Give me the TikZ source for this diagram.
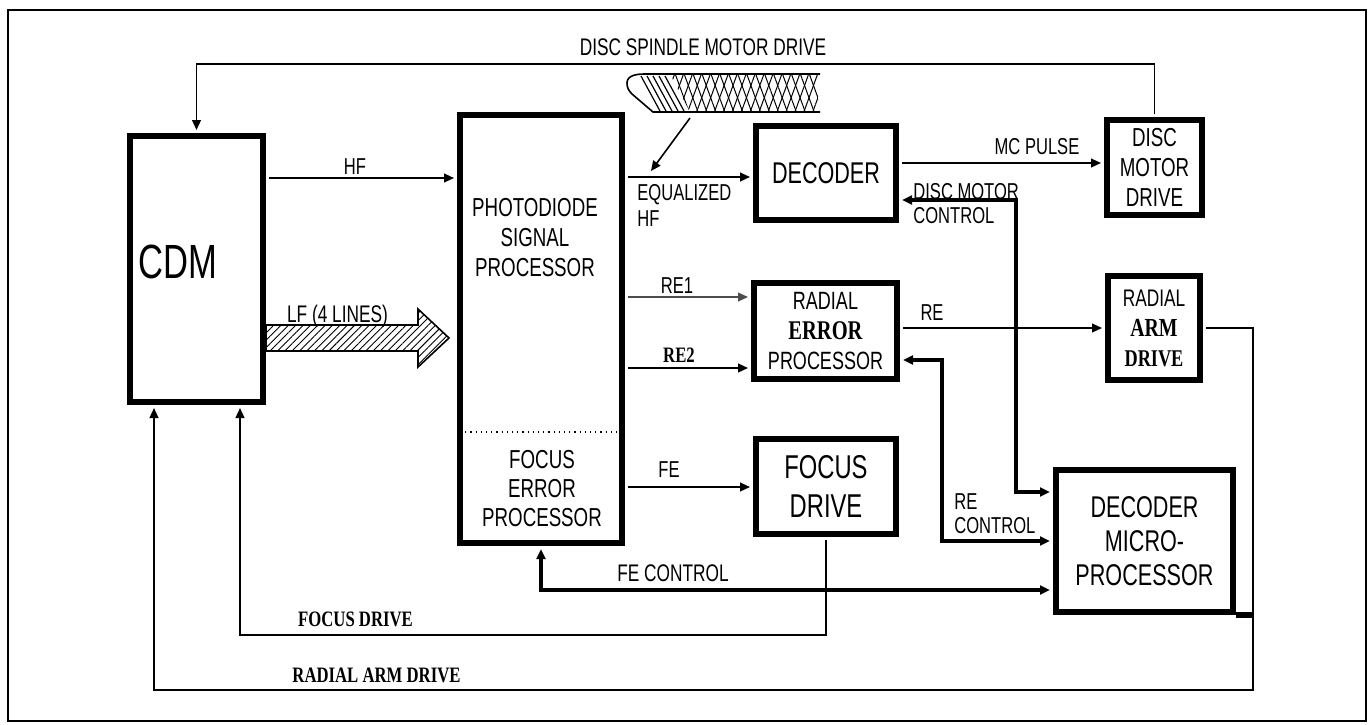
\documentclass[tikz,border=0pt]{standalone}
\usepackage{fontspec}
\setmainfont{Liberation Sans}
\newfontfamily\narrowsf[FakeStretch=0.72]{Liberation Sans}
\newfontfamily\narrowrm[FakeStretch=0.76]{Liberation Serif}
\usetikzlibrary{arrows.meta, positioning, patterns.meta}

\begin{document}
\begin{tikzpicture}[
    x=0.5pt, y=-0.5pt,
    >={Triangle[length=5pt, width=4.4pt]},
    block/.style={
        draw,
        line width=3pt,
        inner sep=0pt,
        align=center,
        font=\narrowsf\fontsize{13}{15}\selectfont
    },
    wire/.style={
        line width=0.9pt,
        shorten <=1.5pt,
        shorten >=1.5pt
    },
    ctrl/.style={
        line width=1.9pt,
        shorten <=1.5pt,
        shorten >=1.5pt
    },
    pointer/.style={
        ->,
        line width=0.8pt
    },
    lbl/.style={
        inner sep=0pt,
        align=left,
        font=\narrowsf\fontsize{11.5}{12}\selectfont
    },
    lblbf/.style={
        inner sep=0pt,
        font=\narrowrm\bfseries\fontsize{11}{12}\selectfont
    }
]

\useasboundingbox (0,0) rectangle (1372,724);
\draw[line width=1.3pt] (8,10) rectangle (1366,721);

% ==================== BLOCKS ====================
\node[block, minimum width=66.5pt, minimum height=133pt,
      label={[font=\narrowsf\fontsize{24}{28}\selectfont, xshift=-9.25pt, yshift=3.5pt]center:CDM}] (cdm) at (196.5,269) {};
\node[block, minimum width=81pt, minimum height=214pt] (pd) at (541,329) {};
\node[align=center, inner sep=0pt, font=\narrowsf\fontsize{13}{15}\selectfont] (pdsig) at (535,238) {PHOTODIODE\\SIGNAL\\PROCESSOR};
\node[align=center, inner sep=0pt, font=\narrowsf\fontsize{13}{14.5}\selectfont] (fep) at (542,489) {FOCUS\\ERROR\\PROCESSOR};
\draw[dotted, line width=0.6pt, shorten <=1.5pt, shorten >=1.5pt] (pd.west |- 0,432) -- (pd.east |- 0,432);

\node[block, minimum width=70pt, minimum height=47pt, font=\narrowsf\fontsize{15}{18}\selectfont] (dec) at (826,173) {DECODER};
\node[block, minimum width=47.5pt, minimum height=47.5pt, font=\narrowsf\fontsize{13}{15}\selectfont] (dmd) at (1154.5,167.5) {DISC\\MOTOR\\DRIVE};
\node[block, minimum width=71.5pt, minimum height=48pt, font=\narrowsf\fontsize{12.5}{15}\selectfont] (rep) at (825.5,331)
      {RADIAL\\{\narrowrm\bfseries\fontsize{13.5}{15}\selectfont ERROR}\\PROCESSOR};
\node[block, minimum width=46pt, minimum height=52pt, font=\narrowsf\fontsize{12}{15}\selectfont] (rad) at (1154,328)
      {RADIAL\\{\narrowrm\bfseries\fontsize{13}{15}\selectfont ARM}\\{\narrowrm\bfseries\fontsize{12}{15}\selectfont DRIVE}};
\node[block, minimum width=70pt, minimum height=47.5pt, font=\narrowsf\fontsize{16.5}{19.5}\selectfont] (fd) at (826,486.5) {FOCUS\\DRIVE};
\node[block, minimum width=88.5pt, minimum height=71pt, font=\narrowsf\fontsize{15}{17}\selectfont] (dmp) at (1144.5,541) {DECODER\\MICRO-\\PROCESSOR};

% ==================== RIBBON CABLE ====================
\draw[line width=0.8pt] (820,74) -- (645,74) to[out=180, in=90] (627,83) to[out=-90, in=135] (632,94) -- (653,112) -- (820,112);
\foreach \i in {0,...,4}
    \draw[line width=0.6pt] ({641+6*\i},76) -- ({660+6*\i},111);
\fill[pattern={Lines[angle=70, distance=4.2pt, line width=0.5pt]}] (670,74) -- (818,74) -- (818,112) -- (690,112) -- cycle;
\fill[pattern={Lines[angle=110, distance=4.2pt, line width=0.5pt]}] (670,74) -- (818,74) -- (818,112) -- (690,112) -- cycle;
\coordinate (cable) at (690,118);
\coordinate (eqpoint) at (651,171);
\draw[pointer] (cable) -- (eqpoint);

% ==================== SIGNALS ====================
\coordinate (spindle) at (0,64);
\draw[wire,->] (dmd.north) -- (dmd.north |- spindle) -- (cdm.north |- spindle) -- (cdm.north);
\node[lbl, font=\narrowsf\fontsize{12}{14}\selectfont] (spindlelbl) at (703,47) {DISC SPINDLE MOTOR DRIVE};

\draw[wire,->] (cdm.east |- 0,178) -- (pd.west |- 0,178);
\node[lbl] (hflbl) at (355,167) {HF};

\draw[line width=0.8pt, pattern={Lines[angle=45, distance=2.6pt, line width=0.45pt]}]
    (cdm.east |- 0,325) -- (418,325) -- (418,309) -- (449,338) -- (418,367) -- (418,351) -- (cdm.east |- 0,351) -- cycle;
\node[lbl, font=\narrowsf\fontsize{12}{14}\selectfont] (lflbl) at (337.5,316) {LF (4 LINES)};

\draw[wire,->] (pd.east |- 0,177) -- (dec.west |- 0,177);
\node[lbl, anchor=north west, font=\narrowsf\fontsize{11.5}{13}\selectfont] (eqlbl) at (637,184) {EQUALIZED\\HF};

\draw[wire,->] (dec.east |- 0,163) -- (dmd.west |- 0,163);
\node[lbl] (mclbl) at (1037,147) {MC PULSE};

\draw[ctrl,<->] (dec.east |- 0,200) -| (1016,492) -- (dmp.west |- 0,492);
\node[lbl, anchor=north west] (dmclbl) at (913,183) {DISC MOTOR\\CONTROL};

\draw[wire, gray!60!black, line width=0.7pt, ->] (pd.east |- 0,297) -- (rep.west |- 0,297);
\node[lbl] (re1lbl) at (677,286) {RE1};

\draw[wire,->] (pd.east |- 0,368) -- (rep.west |- 0,368);
\node[lblbf] (re2lbl) at (679,355) {RE2};

\draw[wire,->] (rep.east |- 0,328) -- (rad.west |- 0,328);
\node[lbl] (relbl) at (932,313) {RE};

\draw[ctrl,<->] (rep.east |- 0,360) -| (942,541) -- (dmp.west |- 0,541);
\node[lbl, anchor=north west] (reclbl) at (954,493) {RE\\CONTROL};

\draw[wire,->] (pd.east |- 0,487) -- (fd.west |- 0,487);
\node[lbl] (felbl) at (669,470) {FE};

\draw[ctrl,<->] (pd.south) |- (dmp.west |- 0,590);
\node[lbl, font=\narrowsf\fontsize{12}{14}\selectfont] (feclbl) at (673,573) {FE CONTROL};

% ==================== DRIVES BACK TO CDM ====================
\draw[wire,->] (fd.south) |- (240,635) -- (cdm.south -| 240,0);
\node[lblbf] (fdlbl) at (355.5,619.5) {FOCUS DRIVE};

\draw[wire,->] (rad.east) -- (1253,328) |- (154,690) -- (cdm.south -| 154,0);
\node[lblbf] (radlbl) at (376.5,675.5) {RADIAL ARM DRIVE};
\draw[line width=3pt] (dmp.south east) -- (dmp.south east -| 1253,0);

\end{tikzpicture}
\end{document}
